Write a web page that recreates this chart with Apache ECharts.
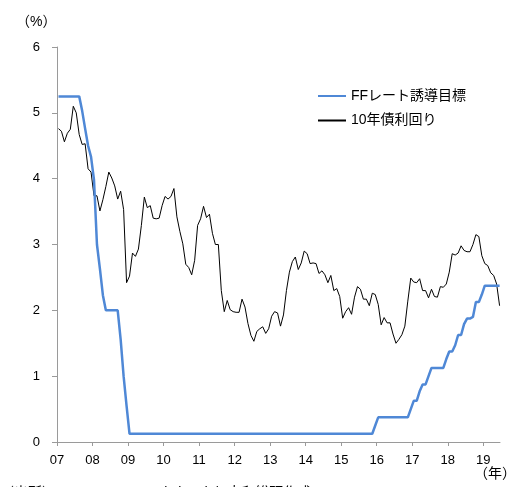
<!DOCTYPE html>
<html>
<head>
<meta charset="utf-8">
<script src="https://cdn.jsdelivr.net/npm/echarts@6/dist/echarts.min.js"></script>
<style>
html,body{margin:0;padding:0;background:#fff;}
#chart{width:516px;height:487px;}
</style>
</head>
<body>
<div id="chart"></div>
<script>
// Year tick labels (2007 .. 2019)
const yearTicks = [2007, 2008, 2009, 2010, 2011, 2012, 2013, 2014, 2015, 2016, 2017, 2018, 2019];
const yearLabels = ['07', '08', '09', '10', '11', '12', '13', '14', '15', '16', '17', '18', '19'];
const firstYear = 2007;

// FF rate target (midpoint of range), monthly average, Jan 2007 - Jun 2019 (%)
const ffRate = [
  5.25, 5.25, 5.25, 5.25, 5.25, 5.25, 5.25, 5.25, 5.03, 4.76, 4.5, 4.33,
  3.98, 3.0, 2.63, 2.23, 2.0, 2.0, 2.0, 2.0, 2.0, 1.56, 1.0, 0.55,
  0.125, 0.125, 0.125, 0.125, 0.125, 0.125, 0.125, 0.125, 0.125, 0.125, 0.125, 0.125,
  0.125, 0.125, 0.125, 0.125, 0.125, 0.125, 0.125, 0.125, 0.125, 0.125, 0.125, 0.125,
  0.125, 0.125, 0.125, 0.125, 0.125, 0.125, 0.125, 0.125, 0.125, 0.125, 0.125, 0.125,
  0.125, 0.125, 0.125, 0.125, 0.125, 0.125, 0.125, 0.125, 0.125, 0.125, 0.125, 0.125,
  0.125, 0.125, 0.125, 0.125, 0.125, 0.125, 0.125, 0.125, 0.125, 0.125, 0.125, 0.125,
  0.125, 0.125, 0.125, 0.125, 0.125, 0.125, 0.125, 0.125, 0.125, 0.125, 0.125, 0.125,
  0.125, 0.125, 0.125, 0.125, 0.125, 0.125, 0.125, 0.125, 0.125, 0.125, 0.125, 0.25,
  0.375, 0.375, 0.375, 0.375, 0.375, 0.375, 0.375, 0.375, 0.375, 0.375, 0.375, 0.5,
  0.625, 0.625, 0.77, 0.875, 0.875, 1.0, 1.125, 1.125, 1.125, 1.125, 1.125, 1.26,
  1.375, 1.375, 1.47, 1.625, 1.625, 1.79, 1.875, 1.875, 1.9, 2.125, 2.125, 2.24,
  2.375, 2.375, 2.375, 2.375, 2.375, 2.375
];

// US 10-year Treasury yield, monthly average, Jan 2007 - Jun 2019 (%)
const yield10 = [
  4.76, 4.72, 4.56, 4.69, 4.75, 5.10, 5.00, 4.67, 4.52, 4.53, 4.15, 4.10,
  3.74, 3.74, 3.51, 3.68, 3.88, 4.10, 4.01, 3.89, 3.69, 3.81, 3.53, 2.42,
  2.52, 2.87, 2.82, 2.93, 3.29, 3.72, 3.56, 3.59, 3.40, 3.39, 3.40, 3.59,
  3.73, 3.69, 3.73, 3.85, 3.42, 3.20, 3.01, 2.70, 2.65, 2.54, 2.76, 3.29,
  3.39, 3.58, 3.41, 3.46, 3.17, 3.00, 3.00, 2.30, 1.98, 2.15, 2.01, 1.98,
  1.97, 1.97, 2.17, 2.05, 1.80, 1.62, 1.53, 1.68, 1.72, 1.75, 1.65, 1.72,
  1.91, 1.98, 1.96, 1.76, 1.93, 2.30, 2.58, 2.74, 2.81, 2.62, 2.72, 2.90,
  2.86, 2.71, 2.72, 2.71, 2.56, 2.60, 2.54, 2.42, 2.53, 2.30, 2.33, 2.21,
  1.88, 1.98, 2.04, 1.94, 2.20, 2.36, 2.32, 2.17, 2.17, 2.07, 2.26, 2.24,
  2.09, 1.78, 1.89, 1.81, 1.81, 1.64, 1.50, 1.56, 1.63, 1.76, 2.14, 2.49,
  2.43, 2.42, 2.48, 2.30, 2.30, 2.19, 2.32, 2.21, 2.20, 2.36, 2.35, 2.40,
  2.58, 2.86, 2.84, 2.87, 2.98, 2.91, 2.89, 2.89, 3.00, 3.15, 3.12, 2.83,
  2.71, 2.68, 2.57, 2.53, 2.40, 2.07
];

const seriesNames = ['FFレート誘導目標', '10年債利回り'];

// month index -> position on the year axis (monthly averages plotted mid-month)
const toPairs = arr => arr.map((v, i) => [firstYear + (i + 0.5) / 12, v]);

const FONT = '"Liberation Sans", "Noto Sans CJK JP", sans-serif';
const chart = echarts.init(document.getElementById('chart'), null, {renderer: 'canvas'});

chart.setOption({
  animation: false,
  backgroundColor: '#ffffff',
  textStyle: {fontFamily: FONT},
  grid: {left: 57, right: 16, top: 47, bottom: 45, containLabel: false},
  legend: {
    orient: 'vertical',
    left: 317,
    top: 89,
    padding: 0,
    itemWidth: 28,
    itemHeight: 14,
    itemGap: 10.5,
    itemStyle: {opacity: 0},
    textStyle: {fontSize: 14, color: '#000', fontFamily: FONT},
    data: seriesNames
  },
  xAxis: {
    type: 'value',
    min: 2007,
    max: 2019.47,
    interval: 1,
    splitLine: {show: false},
    axisLine: {show: true, lineStyle: {color: '#9a9a9a', width: 1}},
    axisTick: {show: true, length: 4, inside: false, lineStyle: {color: '#9a9a9a'}, customValues: yearTicks},
    axisLabel: {
      color: '#000', fontSize: 13, margin: 12, fontFamily: FONT,
      customValues: yearTicks,
      formatter: v => yearLabels[yearTicks.indexOf(Math.round(v))] || ''
    }
  },
  yAxis: {
    type: 'value',
    min: 0,
    max: 6,
    interval: 1,
    splitLine: {show: false},
    axisLine: {show: true, lineStyle: {color: '#9a9a9a', width: 1}},
    axisTick: {show: true, length: 5, lineStyle: {color: '#9a9a9a'}},
    axisLabel: {color: '#000', fontSize: 13, margin: 17, fontFamily: FONT}
  },
  graphic: [
    {type: 'text', left: 16, top: 15, style: {text: '（%）', fontSize: 14, fill: '#000', fontFamily: FONT}},
    {type: 'text', right: 0, top: 467, style: {text: '（年）', fontSize: 14, fill: '#000', fontFamily: FONT}},
    {type: 'text', left: 0, top: 486, style: {text: '（出所）FRB、Haver Analytics より大和総研作成', fontSize: 14, fill: '#000', fontFamily: FONT}}
  ],
  series: [
    {
      name: seriesNames[0],
      type: 'line',
      data: toPairs(ffRate),
      symbol: 'none',
      lineStyle: {color: '#4f88d6', width: 2.5},
      itemStyle: {color: '#4f88d6'},
      z: 3
    },
    {
      name: seriesNames[1],
      type: 'line',
      data: toPairs(yield10),
      symbol: 'none',
      lineStyle: {color: '#000000', width: 1},
      itemStyle: {color: '#000000'},
      z: 2
    }
  ]
});
</script>
</body>
</html>
